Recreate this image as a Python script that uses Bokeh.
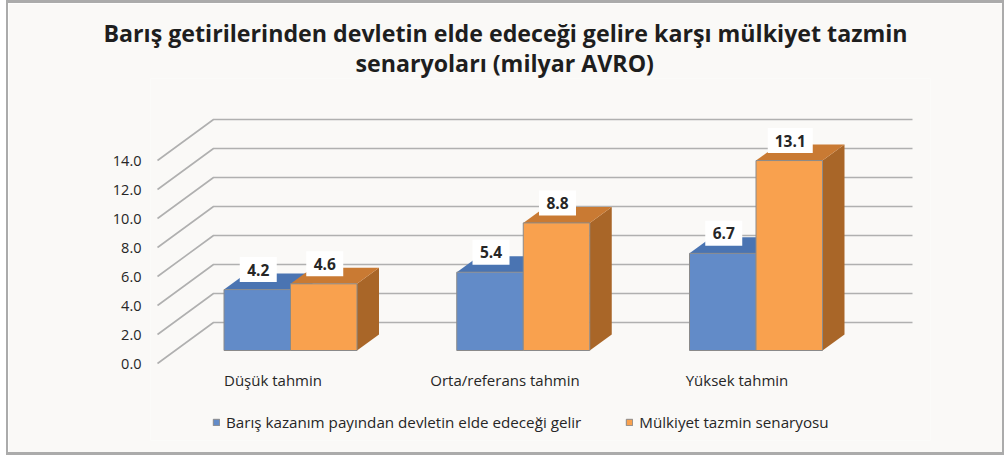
from bokeh.embed import file_html
from bokeh.resources import INLINE
from bokeh.plotting import figure
from bokeh.models import (Range1d, LinearAxis, FixedTicker, Legend, LegendItem,
                          Title, ColumnDataSource)

categories = ["Düşük tahmin", "Orta/referans tahmin", "Yüksek tahmin"]
series_names = ["Barış kazanım payından devletin elde edeceği gelir", "Mülkiyet tazmin senaryosu"]
devlet_geliri = [4.2, 5.4, 6.7]
tazmin = [4.6, 8.8, 13.1]
y_ticks = [0, 2, 4, 6, 8, 10, 12, 14]
title_lines = ["Barış getirilerinden devletin elde edeceği gelire karşı mülkiyet tazmin",
               "senaryoları (milyar AVRO)"]

FONT = "Open Sans"
PL, PT, PR, PB = 8, 3, 1002, 452        # panel edges in page px
FL, FR, FT, FB = 150, 930, 78, 440      # frame edges in page px
PX_X, PX_Y = 232.75, 14.5               # px per category / per unit
X0, Y0 = 290.0, 350.0                   # page px of category 0 / value 0 on bar front plane
BORDER = "#ABABAB"

x_range = Range1d((FL - X0) / PX_X, (FR - X0) / PX_X)
y_range = Range1d((Y0 - FB) / PX_Y, (Y0 - FT) / PX_Y)

shadow = ", ".join(f"{a}px {b}px 0 {BORDER}" for a, b in [(-2, -3), (2, 3), (2, -3), (-2, 3)])
p = figure(width=PR - PL, height=PB - PT, x_range=x_range, y_range=y_range, toolbar_location=None,
           output_backend="svg", min_border_left=FL - PL, min_border_right=PR - FR,
           min_border_top=FT - PT, min_border_bottom=PB - FB, x_axis_location=None, y_axis_location=None,
           background_fill_color="#FAF9F7", border_fill_color="#FAF9F7", outline_line_color=None,
           styles={"position": "absolute", "left": f"{PL}px", "top": f"{PT}px", "box-shadow": shadow})
p.grid.visible = False

# gridlines: front-left end, back-left corner, back-right end
wx0, wx1, wx2 = (157 - X0) / PX_X, (213 - X0) / PX_X, (912 - X0) / PX_X
front_dy, back_dy = -13 / PX_Y, 28 / PX_Y
p.multi_line([[wx0, wx1, wx2] for _ in y_ticks],
             [[v + front_dy, v + back_dy, v + back_dy] for v in y_ticks],
             line_color="#B0B0B0", line_width=1.6)

# bars
BW = 66.5 / PX_X
DX, DY = 22 / PX_X, 16 / PX_Y
front_cols = ["#628BC8", "#F9A14E"]
top_cols = ["#4A74B2", "#C97A33"]
side_cols = ["#3F659E", "#A96628"]
rends = []
for s, vals in enumerate([devlet_geliri, tazmin]):
    l = [i + (s - 1) * BW for i in range(3)]
    r = [a + BW for a in l]
    p.patches([[b, b + DX, b + DX, b] for b in r],
              [[0, DY, v + DY, v] for v in vals], fill_color=side_cols[s], line_color=None)
    p.patches([[a, a + DX, b + DX, b] for a, b in zip(l, r)],
              [[v, v + DY, v + DY, v] for v in vals], fill_color=top_cols[s], line_color=None)
    rends.append(p.quad(left=l, right=r, bottom=0, top=vals, fill_color=front_cols[s],
                        line_color="#8A8A8A", line_width=1))

# value labels
for s, vals in enumerate([devlet_geliri, tazmin]):
    xs = [i + (s - 0.5) * BW + (1 / PX_X) for i in range(3)]
    ys = [v + 20 / PX_Y for v in vals]
    txt = [f"{v:.1f}" for v in vals]
    src = ColumnDataSource(dict(x=xs, y=ys, t=txt, w=[8 * len(t) + 13 for t in txt]))
    p.rect("x", "y", width="w", height=25, width_units="screen", height_units="screen", source=src,
           fill_color="#FFFFFF", line_color=None)
    p.text("x", "y", text="t", source=src, text_align="center", text_baseline="middle",
           text_font={"value": FONT}, text_font_style="bold", text_font_size="15.5px", text_color="#262626")

# axes on shifted ranges
p.extra_y_ranges["axis"] = Range1d((363 - FB) / PX_Y, (363 - FT) / PX_Y)
yax = LinearAxis(y_range_name="axis", ticker=FixedTicker(ticks=y_ticks),
                 major_label_overrides={v: f"{v:.1f}" for v in y_ticks}, axis_line_color=None,
                 major_tick_line_color=None, minor_tick_line_color=None, major_label_standoff=3,
                 major_label_text_font=FONT, major_label_text_font_size="14.5px", major_label_text_color="#262626")
p.add_layout(yax, "left")
CAT_X = 232.0
p.extra_x_ranges["cat"] = Range1d((FL - 272.5) / CAT_X, (FR - 272.5) / CAT_X)
xax = LinearAxis(x_range_name="cat", ticker=FixedTicker(ticks=[0, 1, 2]),
                 major_label_overrides={i: c for i, c in enumerate(categories)}, axis_line_color=None,
                 major_tick_line_color=None, minor_tick_line_color=None, major_label_standoff=363 - FB,
                 major_label_text_font=FONT, major_label_text_font_size="15px", major_label_text_color="#262626")
p.add_layout(xax, "below")

legend = Legend(items=[LegendItem(label=n, renderers=[r]) for n, r in zip(series_names, rends)],
                orientation="horizontal", location=(62, 8), background_fill_alpha=0, border_line_color=None,
                glyph_width=8, glyph_height=8, label_text_font=FONT, label_text_font_size="15.2px",
                label_text_color="#262626", spacing=44, label_standoff=6, padding=0, margin=0)
p.add_layout(legend)

p.add_layout(Title(text=title_lines[1], align="left", offset=205, text_font=FONT, text_font_style="bold",
                   text_font_size="23.2px", text_color="#1E1E1E", standoff=0), "above")
p.add_layout(Title(text=title_lines[0], align="left", offset=-47, text_font=FONT, text_font_style="bold",
                   text_font_size="23.2px", text_color="#1E1E1E", standoff=-8), "above")

open("out.html", "w").write(file_html(p, INLINE))
